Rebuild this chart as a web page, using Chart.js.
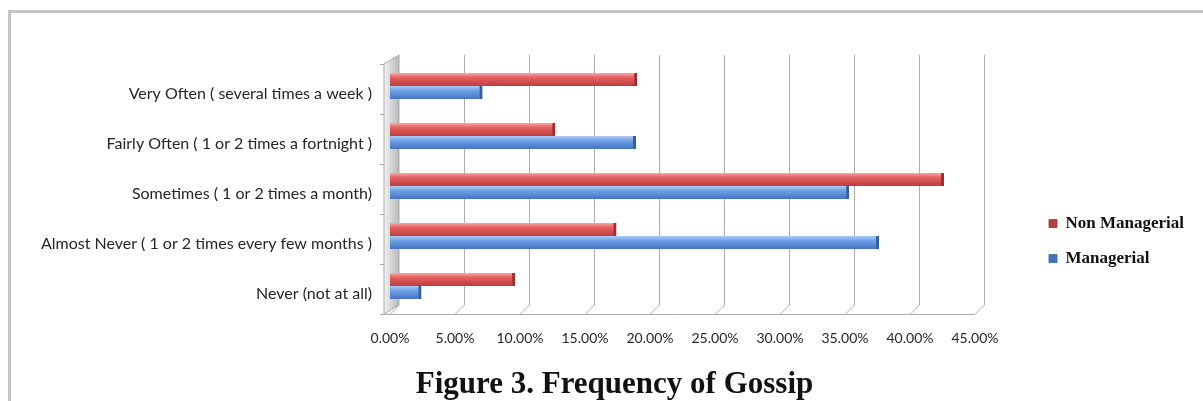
<!DOCTYPE html>
<html>
<head>
<meta charset="utf-8">
<script src="https://cdn.jsdelivr.net/npm/chart.js@4/dist/chart.umd.min.js"></script>
<style>
  html, body { margin: 0; padding: 0; background: #fff; }
  #wrap { position: relative; width: 1203px; height: 401px; }
</style>
</head>
<body>
<div id="wrap"><canvas id="chart" width="1203" height="401"></canvas></div>
<script>
// data (percent)
const categories = [
  "Very Often ( several times a week )",
  "Fairly Often ( 1 or 2 times a fortnight )",
  "Sometimes ( 1 or 2 times a month)",
  "Almost Never ( 1 or 2 times every few months )",
  "Never (not at all)"
]
const nonManagerial = [19.0, 12.7, 42.6, 17.4, 9.6]
const managerial = [7.1, 18.9, 35.3, 37.6, 2.4]
const xTicks = [0, 5, 10, 15, 20, 25, 30, 35, 40, 45]

const BAR = 13
const DEPTH = 9

// vertical gradient for each bar, top light -> bottom dark
function barFill(stops, flat) {
  return (ctx) => {
    const chart = ctx.chart
    if (ctx.type !== 'data' || !chart.chartArea) return flat
    const yc = chart.scales.y.getPixelForValue(ctx.dataIndex)
    const top = ctx.datasetIndex === 0 ? yc - BAR : yc
    const g = chart.ctx.createLinearGradient(0, top, 0, top + BAR)
    g.addColorStop(0, stops[0])
    g.addColorStop(0.35, stops[1])
    g.addColorStop(1, stops[2])
    return g
  }
}

// back wall, floor and grid in the old Excel 3D look
const wall3d = {
  id: 'wall3d',
  beforeDraw(chart) {
    const c = chart.ctx
    c.save()
    c.strokeStyle = '#c6c6c6'
    c.lineWidth = 3
    c.strokeRect(9.5, 11.5, 1400, 600)
    c.restore()
  },
  beforeDatasetsDraw(chart) {
    const c = chart.ctx
    const x = chart.scales.x
    const { top, bottom } = chart.chartArea
    const x0 = x.getPixelForValue(0)
    const backTop = top - 6
    const backBottom = bottom - 6
    const front = bottom + 3
    c.save()
    // left wall
    const g = c.createLinearGradient(x0 - 6, 0, x0 + DEPTH, 0)
    g.addColorStop(0, '#f2f2f2')
    g.addColorStop(0.5, '#d4d4d4')
    g.addColorStop(1, '#b8b8b8')
    c.beginPath()
    c.moveTo(x0 - 6, top + 3)
    c.lineTo(x0 + DEPTH, backTop)
    c.lineTo(x0 + DEPTH, backBottom)
    c.lineTo(x0 - 6, front)
    c.closePath()
    c.fillStyle = g
    c.fill()
    c.strokeStyle = '#a8a8a8'
    c.lineWidth = 1
    c.stroke()
    // category ticks on the wall edge
    const n = categories.length
    c.beginPath()
    for (let i = 0; i <= n; i++) {
      const yy = Math.round(top + 3 + i * (front - top - 3) / n) + 0.5
      c.moveTo(x0 - 10, yy)
      c.lineTo(x0 - 6, yy)
    }
    c.stroke()
    // back grid lines + floor diagonals
    c.strokeStyle = '#adadad'
    c.beginPath()
    xTicks.forEach(v => {
      const px = Math.round(x.getPixelForValue(v)) + 0.5
      if (v > 0) {
        c.moveTo(px + DEPTH, backTop)
        c.lineTo(px + DEPTH, backBottom)
      }
      c.moveTo(px + DEPTH, backBottom)
      c.lineTo(px, front)
    })
    // front floor edge
    c.moveTo(x0 - 6, front + 0.5)
    c.lineTo(x.getPixelForValue(45), front + 0.5)
    c.stroke()
    c.restore()
  }
}

new Chart(document.getElementById('chart'), {
  type: 'bar',
  data: {
    labels: categories,
    datasets: [
      {
        label: 'Non Managerial',
        data: nonManagerial,
        backgroundColor: barFill(['#f7a6a6', '#e66060', '#bd3c3c'], '#e05a5a'),
        borderColor: '#9e2f2f',
        borderWidth: { top: 0, right: 3, bottom: 0, left: 0 },
        borderSkipped: false,
        barThickness: BAR
      },
      {
        label: 'Managerial',
        data: managerial,
        backgroundColor: barFill(['#aecbf5', '#6fa0e6', '#4474c2'], '#5f92e0'),
        borderColor: '#345f9e',
        borderWidth: { top: 0, right: 3, bottom: 0, left: 0 },
        borderSkipped: false,
        barThickness: BAR
      }
    ]
  },
  options: {
    indexAxis: 'y',
    responsive: false,
    animation: false,
    layout: { padding: { top: 61, left: 35, right: 9, bottom: 0 } },
    scales: {
      x: {
        type: 'linear',
        min: 0,
        max: 45,
        afterBuildTicks: (s) => { s.ticks = xTicks.map(v => ({ value: v })) },
        afterFit: (s) => { s.height = 40 },
        grid: { display: false, drawTicks: false },
        border: { display: false },
        ticks: {
          padding: 19,
          color: '#262626',
          font: { family: 'Lato', size: 14 },
          callback: (v) => v.toFixed(2) + '%',
          maxRotation: 0
        }
      },
      y: {
        afterFit: (s) => { s.width = 355 },
        grid: { display: false, drawTicks: false },
        border: { display: false },
        ticks: {
          padding: 18,
          labelOffset: 8,
          color: '#262626',
          font: { family: 'Lato', size: 16 }
        }
      },
      y2: {
        type: 'linear',
        axis: 'y',
        position: 'right',
        afterFit: (s) => { s.width = 56 },
        grid: { display: false, drawTicks: false },
        border: { display: false },
        ticks: { display: false }
      }
    },
    plugins: {
      legend: {
        position: 'right',
        align: 'start',
        title: { display: true, text: ' ', font: { size: 10 }, padding: { top: 0, bottom: 124 } },
        labels: {
          boxWidth: 8,
          boxHeight: 8,
          padding: 18,
          color: '#111',
          font: { family: 'Liberation Serif', size: 17, weight: 'bold' }
        }
      },
      title: {
        display: true,
        position: 'bottom',
        text: 'Figure 3. Frequency of Gossip',
        color: '#111',
        font: { family: 'Liberation Serif', size: 31, weight: 'bold', lineHeight: 1 },
        padding: { top: 18, bottom: 1 }
      },
      tooltip: { enabled: false }
    }
  },
  plugins: [wall3d]
})
</script>
</body>
</html>
